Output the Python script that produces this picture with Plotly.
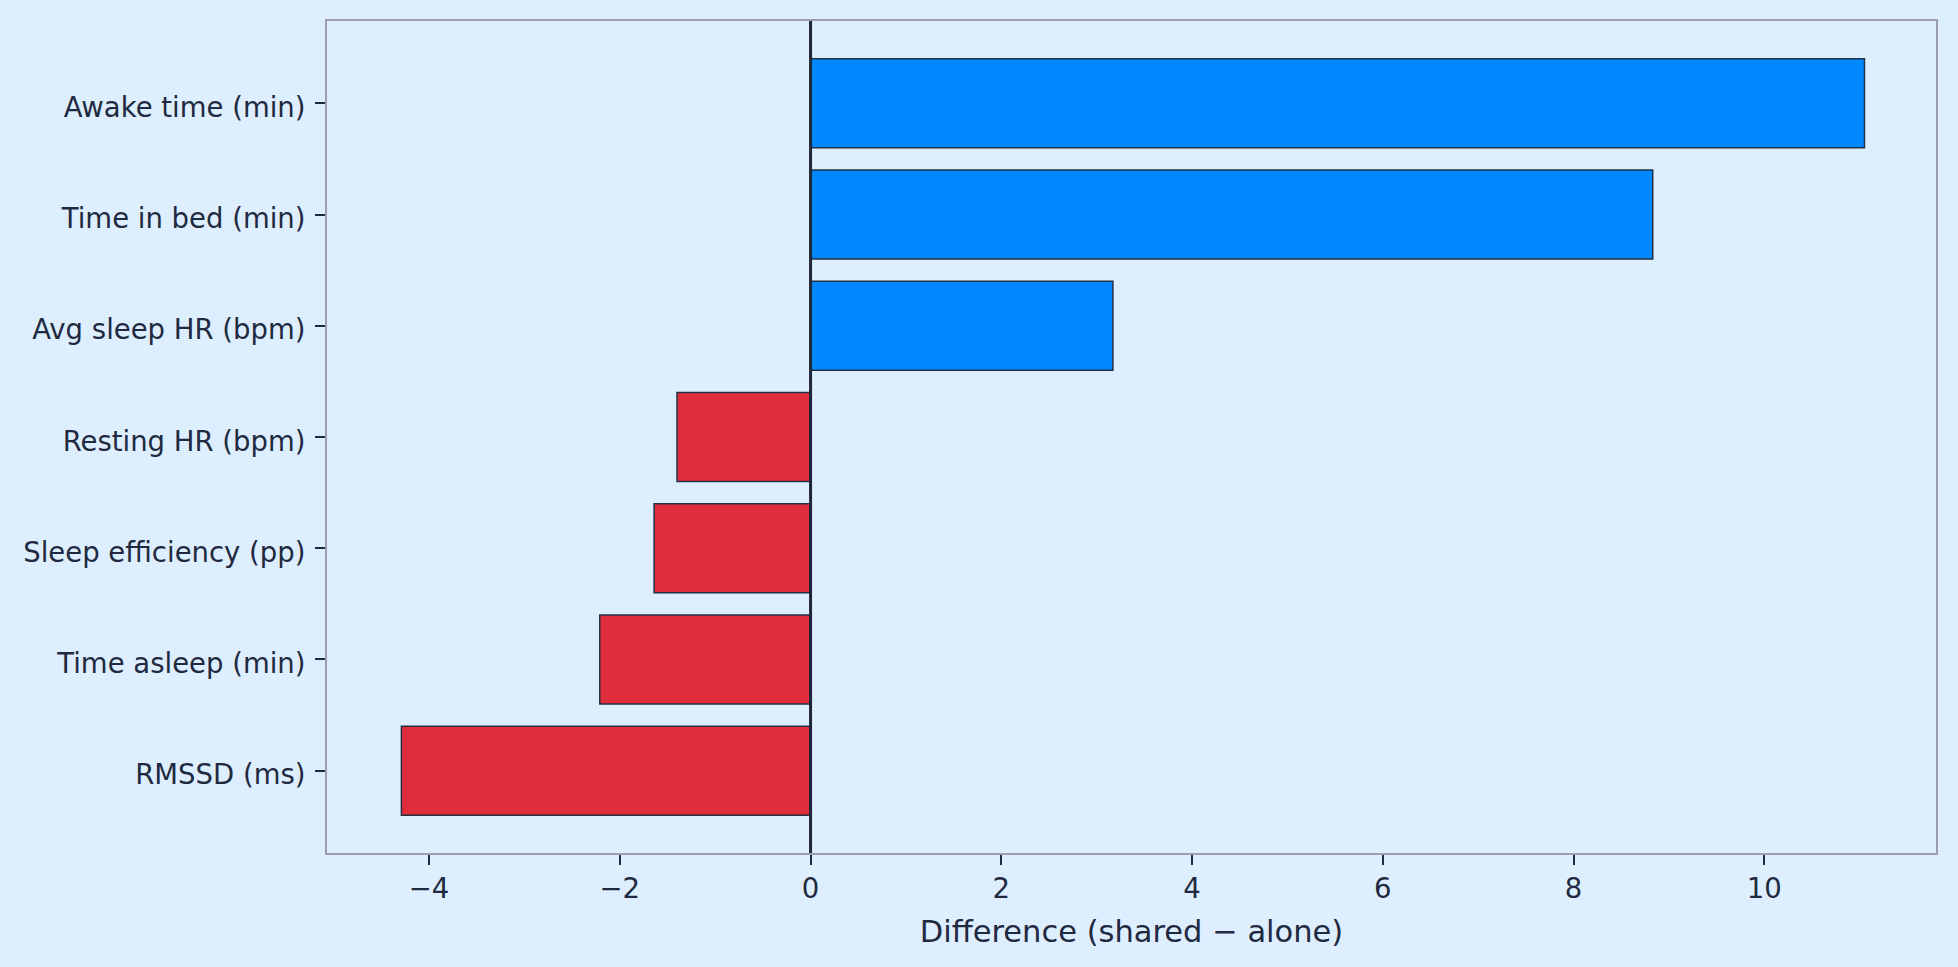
import plotly.graph_objects as go

# metrics listed top to bottom, with the shared - alone difference for each
metrics = ['Awake time (min)', 'Time in bed (min)', 'Avg sleep HR (bpm)', 'Resting HR (bpm)',
           'Sleep efficiency (pp)', 'Time asleep (min)', 'RMSSD (ms)']
differences = [11.05, 8.83, 3.17, -1.40, -1.64, -2.21, -4.29]

bar_colors = ['#0088FF' if d > 0 else '#E02D3C' for d in differences]

fig = go.Figure()
fig.add_trace(go.Bar(
    x=differences, y=metrics, orientation='h', width=0.8,
    marker=dict(color=bar_colors, line=dict(color='#243044', width=1.5)),
))

# zero reference line
fig.add_vline(x=0, line=dict(color='#1E2638', width=3), layer='above')

fig.update_layout(
    width=1958, height=967,
    margin=dict(l=327, r=22, t=21, b=114),
    paper_bgcolor='#DDEEFF', plot_bgcolor='#DDEEFF',
    font=dict(family='DejaVu Sans', size=27.5, color='#1F2A40'),
    showlegend=False,
    bargap=0.2,
)
fig.update_xaxes(
    range=[-5.07, 11.8], dtick=2, showgrid=False, zeroline=False,
    showline=True, mirror=True, linecolor='#9A9EAE', linewidth=2,
    ticks='outside', ticklen=10, tickwidth=2, tickcolor='#1F2A40',
    title=dict(text='Difference (shared − alone)', font=dict(size=30.5), standoff=18),
)
fig.update_yaxes(
    type='category', categoryorder='array', categoryarray=metrics,
    range=[6.74, -0.74], showgrid=False, zeroline=False,
    showline=True, mirror=True, linecolor='#9A9EAE', linewidth=2,
    ticks='outside', ticklen=10, tickwidth=2, tickcolor='#1F2A40',
    ticklabelstandoff=4, ticklabelshift=-4,
)

# drop the page's default body margin so the figure fills the window
fig.write_html("out.html", config={'displayModeBar': False},
               post_script="document.body.style.margin='0';")
